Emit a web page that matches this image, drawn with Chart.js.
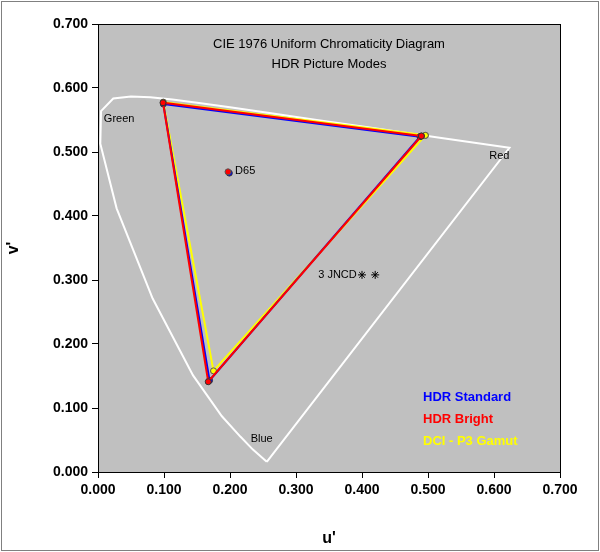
<!DOCTYPE html>
<html><head><meta charset="utf-8">
<script src="https://cdn.jsdelivr.net/npm/chart.js@4"></script>
<style>html,body{margin:0;padding:0;background:#fff}#w{width:600px;height:552px;position:relative}</style>
</head><body><div id="w"><canvas id="c" width="600" height="552"></canvas></div>
<script>
const locusU=[0.2557,0.2347,0.216,0.1877,0.144,0.0828,0.0282,0.0035,0.0046,0.0231,0.050,0.0792,0.1127,0.1531,0.2026,0.2623,0.3315,0.4035,0.5203,0.6234,0.2557];
const locusV=[0.0159,0.035,0.055,0.0871,0.151,0.271,0.412,0.513,0.564,0.5837,0.5868,0.5856,0.5821,0.5766,0.5694,0.5604,0.5501,0.5393,0.5219,0.5065,0.0159];
const p3U=[0.496,0.099,0.175,0.496], p3V=[0.526,0.578,0.158,0.526];
const stdU=[0.488,0.099,0.169,0.488], stdV=[0.524,0.575,0.143,0.524];
const brU=[0.490,0.0985,0.167,0.490], brV=[0.525,0.577,0.141,0.525];
const d65U=[0.199,0.197], d65V=[0.467,0.469];
const jncdU=[0.400,0.420], jncdV=[0.308,0.308];
const labels=[["Green",0.032,0.552,"center"],["D65",0.223,0.470,"center"],["Red",0.608,0.494,"center"],["Blue",0.248,0.052,"center"],["3 JNCD",0.392,0.308,"right"]];
const legendItems=[["HDR Standard","#0000FF"],["HDR Bright","#FF0000"],["DCI - P3 Gamut","#FFFF00"]];
const xTicks=[0,0.1,0.2,0.3,0.4,0.5,0.6,0.7];
const pts=(u,v)=>u.map((x,i)=>({x:x,y:v[i]}));
const F='Arial, "Liberation Sans"';
const bgPlugin={id:'bg',beforeDraw(ch){const c=ch.ctx,a=ch.chartArea;c.save();c.fillStyle='#fff';c.fillRect(0,0,600,552);c.strokeStyle='#808080';c.lineWidth=1;c.strokeRect(1.5,1.5,597,549);c.fillStyle='#C0C0C0';c.fillRect(a.left,a.top,a.right-a.left,a.bottom-a.top);c.restore();},
afterDraw(ch){const c=ch.ctx,x=ch.scales.x,y=ch.scales.y,a=ch.chartArea;c.save();c.strokeStyle='#000';c.lineWidth=1;c.strokeRect(a.left+0.5,a.top+0.5,a.right-a.left,a.bottom-a.top);
c.fillStyle='#000';c.font='13px '+F;c.textAlign='center';c.textBaseline='middle';
c.fillText('CIE 1976 Uniform Chromaticity Diagram',(a.left+a.right)/2,44);c.fillText('HDR Picture Modes',(a.left+a.right)/2,64);
c.font='11px '+F;
labels.forEach(l=>{c.textAlign=l[3];c.fillText(l[0],x.getPixelForValue(l[1]),y.getPixelForValue(l[2]));});
c.font='bold 13px '+F;c.textAlign='left';
legendItems.forEach((l,i)=>{c.fillStyle=l[1];c.fillText(l[0],423,397+22*i);});
c.restore();}};
new Chart(document.getElementById('c'),{type:'scatter',
data:{datasets:[
{data:pts(jncdU,jncdV),pointStyle:'star',pointRadius:4,borderColor:'#000',borderWidth:1},
{data:[{x:d65U[1],y:d65V[1]}],pointRadius:3,pointBackgroundColor:'#FF0000',pointBorderColor:'#555'},
{data:[{x:d65U[0],y:d65V[0]}],pointRadius:3,pointBackgroundColor:'#0000FF',pointBorderColor:'#333'},
{data:pts(brU,brV),showLine:true,borderColor:'#FF0000',borderWidth:2,pointRadius:3,pointBackgroundColor:'#FF0000',pointBorderColor:'#333',pointBorderWidth:1},
{data:pts(stdU,stdV),showLine:true,borderColor:'#0000FF',borderWidth:2,pointRadius:3,pointBackgroundColor:'#0000FF',pointBorderColor:'#333',pointBorderWidth:1},
{data:pts(p3U,p3V),showLine:true,borderColor:'#FFFF00',borderWidth:2,pointRadius:3,pointBackgroundColor:'#FFFF00',pointBorderColor:'#555',pointBorderWidth:1},
{data:pts(locusU,locusV),showLine:true,borderColor:'#fff',borderWidth:2,pointRadius:0,tension:0}
]},
options:{animation:false,responsive:false,devicePixelRatio:1,
layout:{padding:{top:24,right:40,left:0,bottom:0}},
plugins:{legend:{display:false},tooltip:{enabled:false}},
scales:{
x:{type:'linear',min:0,max:0.7,afterFit(s){s.height=80;},afterBuildTicks(s){s.ticks=xTicks.map(v=>({value:v}));},
 ticks:{color:'#000',font:{size:14,weight:'bold',family:F},callback:v=>v.toFixed(3),maxRotation:0,padding:4},
 grid:{drawOnChartArea:false,tickLength:6,color:'#000'},border:{color:'#000'},
 title:{display:true,text:"u'",color:'#000',font:{size:16,weight:'bold',family:F},padding:{top:0}}},
y:{type:'linear',min:0,max:0.7,afterFit(s){s.width=98;},afterBuildTicks(s){s.ticks=xTicks.map(v=>({value:v}));},
 ticks:{color:'#000',font:{size:14,weight:'bold',family:F},callback:v=>v.toFixed(3),padding:4},
 grid:{drawOnChartArea:false,tickLength:6,color:'#000'},border:{color:'#000'},
 title:{display:true,text:"v'",color:'#000',font:{size:16,weight:'bold',family:F},padding:{bottom:0}}}
}},plugins:[bgPlugin]});
</script></body></html>
